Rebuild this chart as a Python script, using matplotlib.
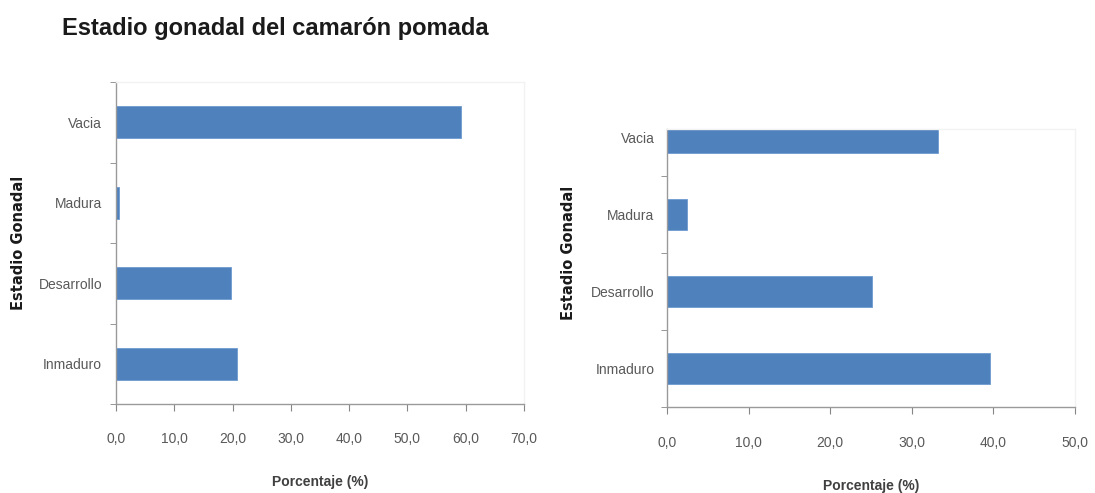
import matplotlib.pyplot as plt
from matplotlib import font_manager
import numpy as np

nombres = {f.name for f in font_manager.fontManager.ttflist}
if 'Liberation Sans Narrow' in nombres:
    fuente = 'Liberation Sans Narrow'
else:
    fuente = 'Liberation Sans'
plt.rcParams['font.family'] = [fuente, 'DejaVu Sans']

categorias = ['Inmaduro', 'Desarrollo', 'Madura', 'Vacia']
izq_vals = [20.8, 19.7, 0.5, 59.2]
der_vals = [39.6, 25.1, 2.4, 33.2]
izq_xticks = np.arange(0, 71, 10)
der_xticks = np.arange(0, 51, 10)

azul = '#4F81BD'
gris = '#595959'

W, H = 1095, 493
fig = plt.figure(figsize=(W / 100, H / 100), dpi=100)


def panel(rect, vals, xticks, ytop, ypad, xpad):
    x0, y0, x1, y1 = rect
    ax = fig.add_axes([x0 / W, 1 - y1 / H, (x1 - x0) / W, (y1 - y0) / H])
    y = np.arange(len(categorias))
    ax.barh(y, vals, height=0.4, color=azul, edgecolor='#6f9bd0', linewidth=0.6)
    ax.set_yticks(y)
    ax.set_yticklabels(categorias, fontsize=10, color=gris)
    ax.set_yticks(np.arange(-0.5, 3.6, 1.0), minor=True)
    ax.tick_params(axis='y', which='major', length=0, pad=ypad)
    ax.tick_params(axis='y', which='minor', length=4, color='#868686', direction='out')
    ax.set_xticks(xticks)
    ax.set_xticklabels([f'{v:.1f}'.replace('.', ',') for v in xticks], fontsize=10, color=gris)
    ax.tick_params(axis='x', length=5, color='#868686', pad=xpad)
    ax.set_xlim(xticks[0], xticks[-1])
    ax.set_ylim(-0.5, ytop)
    for s in ['left', 'bottom']:
        ax.spines[s].set_color('#9a9a9a')
        ax.spines[s].set_linewidth(1.0)
    for s in ['top', 'right']:
        ax.spines[s].set_color('#f2f2f2')
        ax.spines[s].set_linewidth(1.0)
    ax.set_xlabel('Porcentaje (%)', fontsize=10, fontweight='bold', color='#404040', labelpad=21)
    ax.set_ylabel('Estadio Gonadal', fontsize=10.5, fontweight='bold', color='#1a1a1a',
                  family='DejaVu Sans')
    return ax


ax1 = panel((116, 82, 524, 404), izq_vals, izq_xticks, 3.5, 10, 15)
ax1.yaxis.set_label_coords(-0.22, 0.5)
ax2 = panel((667, 129, 1075, 407), der_vals, der_xticks, 3.11, 9, 16)
ax2.yaxis.set_label_coords(-0.223, 0.554)

fig.text(62 / W, 1 - 28 / H, 'Estadio gonadal del camarón pomada', fontsize=17,
         fontweight='bold', color='#1a1a1a', va='center', ha='left')

fig.savefig('out.png', dpi=100)
